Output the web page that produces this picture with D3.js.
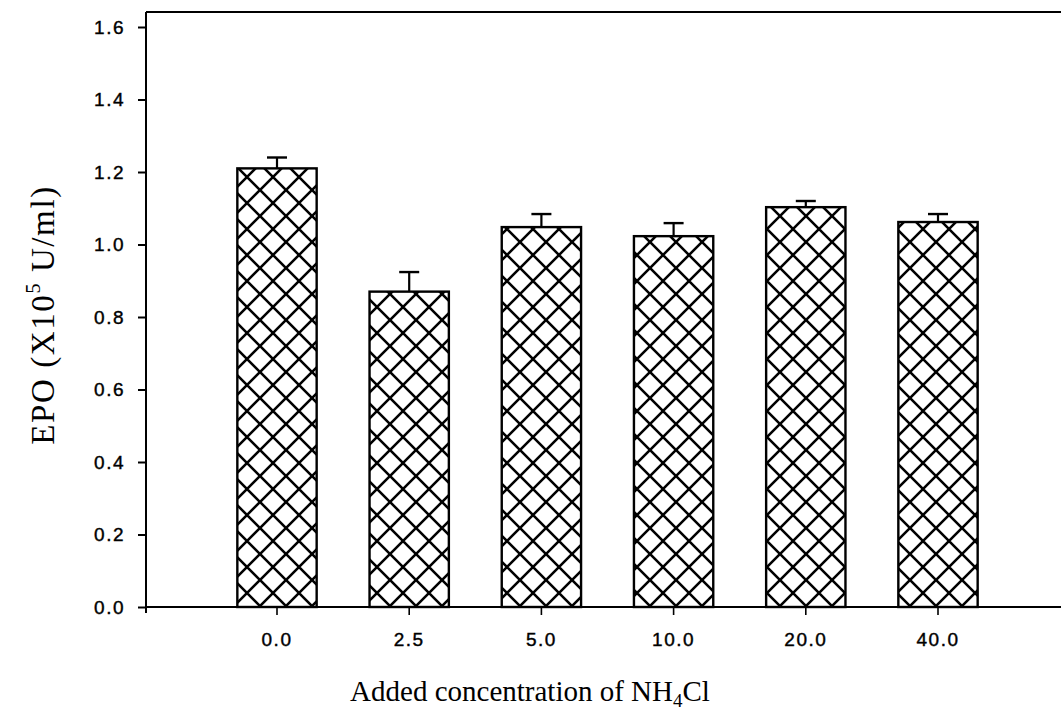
<!DOCTYPE html>
<html><head><meta charset="utf-8">
<script src="https://cdn.jsdelivr.net/npm/d3@7"></script>
<style>body{margin:0;background:#fff}svg{display:block}</style>
</head><body>
<script>
const categories = ["0.0","2.5","5.0","10.0","20.0","40.0"];
const values = [1.21, 0.87, 1.048, 1.023, 1.103, 1.062];
const errors = [0.03, 0.054, 0.036, 0.036, 0.017, 0.022];
const yTicks = [0,0.2,0.4,0.6,0.8,1.0,1.2,1.4,1.6];

const W=1061,H=719;
const svg=d3.select("body").append("svg").attr("width",W).attr("height",H);
const x0=146, yBase=607;
const y=d3.scaleLinear().domain([0,1.6]).range([yBase,27]);
const step=132.2;
const x=d3.scaleBand().domain(categories).range([277-step/2,938+step/2]).paddingInner(0.4).paddingOuter(0.2);

const defs=svg.append("defs");
const pat=defs.append("pattern").attr("id","hatch").attr("patternUnits","userSpaceOnUse")
  .attr("width",26).attr("height",26).attr("x",0).attr("y",8);
pat.append("path").attr("d","M-2,2 L2,-2 M0,26 L26,0 M24,28 L28,24 M-2,24 L2,28 M0,0 L26,26 M24,-2 L28,2")
  .attr("stroke","#000").attr("stroke-width",2.6).attr("fill","none");

// frame
svg.append("line").attr("x1",x0).attr("x2",W).attr("y1",12).attr("y2",12).attr("stroke","#000").attr("stroke-width",2);
svg.append("line").attr("x1",x0).attr("x2",x0).attr("y1",12).attr("y2",yBase+6).attr("stroke","#000").attr("stroke-width",2);

// bars
const g=svg.append("g");
g.selectAll("rect.bar").data(values).join("rect").attr("class","bar")
  .attr("x",(d,i)=>x(categories[i])).attr("width",x.bandwidth())
  .attr("y",d=>y(d)).attr("height",d=>yBase-y(d))
  .attr("fill","url(#hatch)").attr("stroke","#000").attr("stroke-width",2.4);
// error bars
const cx=i=>x(categories[i])+x.bandwidth()/2;
const eb=g.selectAll("g.err").data(values).join("g").attr("class","err");
eb.append("line").attr("x1",(d,i)=>cx(i)).attr("x2",(d,i)=>cx(i))
  .attr("y1",d=>y(d)).attr("y2",(d,i)=>y(d+errors[i])).attr("stroke","#000").attr("stroke-width",2.2);
eb.append("line").attr("x1",(d,i)=>cx(i)-10).attr("x2",(d,i)=>cx(i)+10)
  .attr("y1",(d,i)=>y(d+errors[i])).attr("y2",(d,i)=>y(d+errors[i])).attr("stroke","#000").attr("stroke-width",2.4);

const tickFont="Liberation Sans, Arial, sans-serif";
// x axis
svg.append("line").attr("x1",x0).attr("x2",W).attr("y1",yBase).attr("y2",yBase).attr("stroke","#000").attr("stroke-width",2);
const xa=svg.append("g").attr("transform",`translate(0,${yBase})`)
  .call(d3.axisBottom(x).tickSize(8).tickPadding(18));
xa.select(".domain").remove();
xa.selectAll("line").attr("stroke-width",1.6);
xa.selectAll("text").attr("font-family",tickFont).attr("font-size",19).attr("letter-spacing",1.5)
  .attr("fill","#000").attr("stroke","#000").attr("stroke-width",0.4);

// y axis
const ya=svg.append("g").attr("transform",`translate(${x0},0)`)
  .call(d3.axisLeft(y).tickValues(yTicks).tickFormat(d3.format(".1f")).tickSize(8).tickPadding(13));
ya.select(".domain").remove();
ya.selectAll("line").attr("stroke-width",2);
ya.selectAll("text").attr("font-family",tickFont).attr("font-size",19).attr("letter-spacing",1.5)
  .attr("fill","#000").attr("stroke","#000").attr("stroke-width",0.4);

// titles
const serif="Liberation Serif, Times New Roman, serif";
const xt=svg.append("text").attr("x",530).attr("y",701).attr("text-anchor","middle")
  .attr("font-family",serif).attr("font-size",29).attr("fill","#000");
xt.append("tspan").text("Added concentration of NH");
xt.append("tspan").attr("font-size",19).attr("dy",6).text("4");
xt.append("tspan").attr("dy",-6).text("Cl");

const yt=svg.append("text").attr("transform","translate(54,315) rotate(-90)").attr("text-anchor","middle")
  .attr("font-family",serif).attr("font-size",33).attr("letter-spacing",1.6).attr("fill","#000");
yt.append("tspan").text("EPO (X10");
yt.append("tspan").attr("font-size",20).attr("dy",-14).text("5");
yt.append("tspan").attr("dy",14).text(" U/ml)");
</script>
</body></html>
